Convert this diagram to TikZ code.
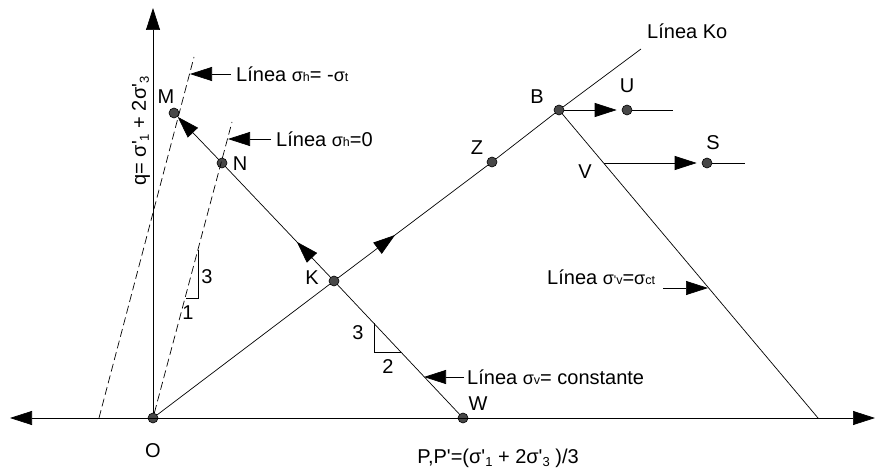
\documentclass[tikz,border=0pt]{standalone}
\usepackage{fontspec}
\setmainfont{Liberation Sans}
\usetikzlibrary{arrows.meta}
\newcommand{\ptdot}[3]{\node[circle,draw=black,fill=black!72,line width=0.6pt,inner sep=0pt,minimum size=10pt] (#1) at (#2,#3) {};}
\newcommand{\sig}[1]{{\fontsize{18}{20}\selectfont σ}{\fontsize{12.5}{14}\selectfont #1}}
\newcommand{\lowtxt}[1]{\raisebox{-3pt}{\fontsize{13}{15}\selectfont #1}}
\newcommand{\prm}{\textquotesingle}
\tikzset{
  tip/.style={-{Triangle[length=22pt,width=14pt]}},
  thinline/.style={line width=0.7pt},
  dashline/.style={line width=0.7pt,dash pattern=on 8pt off 4pt},
  lbl/.style={inner sep=0pt}
}

\begin{document}
\begin{tikzpicture}[x=1pt,y=-1pt,font=\fontsize{20}{24}\selectfont]
\useasboundingbox (0,0) rectangle (875,470);
\coordinate (xl) at (10,418);
\coordinate (xr) at (875,418);
\coordinate (yt) at (153,8);
\coordinate (ko) at (641,49);
\coordinate (V) at (604,163);
\coordinate (vb) at (818,418);
\coordinate (ue) at (673,110);
\coordinate (se) at (745,163);
\coordinate (d1a) at (99,418);
\coordinate (d1b) at (194,57);
\coordinate (d2b) at (232,122);
\ptdot{O}{153}{418}
\ptdot{W}{463}{418}
\ptdot{M}{174}{113}
\ptdot{N}{222}{163}
\ptdot{K}{334}{281}
\ptdot{Z}{492}{162}
\ptdot{B}{559}{110}
\ptdot{U}{627}{110}
\ptdot{S}{707}{163}
\draw[thinline,{Triangle[length=22pt,width=14pt]}-{Triangle[length=22pt,width=14pt]}] (xl) -- (xr);
\draw[thinline,tip] (O) -- (yt);
\draw[dashline] (d1a) -- (d1b);
\draw[dashline] (O) -- (d2b);
\draw[thinline] (O) -- (K) -- (Z) -- (B) -- (ko);
\draw[thinline,{Triangle[length=22pt,width=14pt]}-] (M) -- (N);
\draw[thinline] (N) -- (K) -- (W);
\draw[thinline] (B) -- (vb);
\draw[thinline,tip,shorten >=5pt] (B) -- (U);
\draw[thinline] (U) -- (ue);
\draw[thinline,tip,shorten >=5pt] (V) -- (S);
\draw[thinline] (S) -- (se);
\path (K) -- (Z) coordinate[pos=0.27] (kz1) coordinate[pos=0.38] (kz2);
\draw[thinline,tip] (kz1) -- (kz2);
\path (K) -- (N) coordinate[pos=0.18] (kn1) coordinate[pos=0.32] (kn2);
\draw[thinline,tip] (kn1) -- (kn2);
\draw[thinline] (186,298) -- (198,298) -- (198,250);
\draw[thinline] (374,323) -- (374,352) -- (401,352);
\coordinate (a1t) at (190,74);
\coordinate (a1s) at (231,74);
\coordinate (a2t) at (228,139);
\coordinate (a2s) at (271,139);
\coordinate (a3t) at (424,377);
\coordinate (a3s) at (464,377);
\coordinate (a4t) at (708,288);
\coordinate (a4s) at (663,288);
\draw[thinline,tip] (a1s) -- (a1t);
\draw[thinline,tip] (a2s) -- (a2t);
\draw[thinline,tip] (a3s) -- (a3t);
\draw[thinline,tip] (a4s) -- (a4t);
\node[lbl,anchor=west] (t1) at (236,74) {Línea \sig{h}= -\sig{t}};
\node[lbl,anchor=west] (t2) at (276,139) {Línea \sig{h}=0};
\node[lbl,anchor=west] (t3) at (467,377) {Línea \sig{v}= constante};
\node[lbl,anchor=west] (t4) at (547,277) {Línea \sig{\prm v}=\sig{ct}};
\node[lbl,anchor=west] (t5) at (647,31) {Línea Ko};
\node[lbl] (lM) at (166,97) {M};
\node[lbl] (lN) at (240,164) {N};
\node[lbl] (lK) at (312,278) {K};
\node[lbl] (lZ) at (477,148) {Z};
\node[lbl] (lB) at (537,97) {B};
\node[lbl] (lU) at (627,86) {U};
\node[lbl] (lS) at (713,143) {S};
\node[lbl] (lV) at (585,172) {V};
\node[lbl] (lW) at (478,404) {W};
\node[lbl] (lO) at (153,451) {O};
\node[lbl] (s3a) at (207,277) {3};
\node[lbl] (s1) at (188,313) {1};
\node[lbl] (s3b) at (358,333) {3};
\node[lbl] (s2) at (388,367) {2};
\node[lbl,rotate=90] (qlab) at (141,131) {q= σ\prm\lowtxt{1} + 2σ\prm\lowtxt{3}};
\node[lbl] (plab) at (498,458) {P,P\prm=(σ\prm\lowtxt{1} + 2σ\prm\lowtxt{3} )/3};
\end{tikzpicture}
\end{document}
